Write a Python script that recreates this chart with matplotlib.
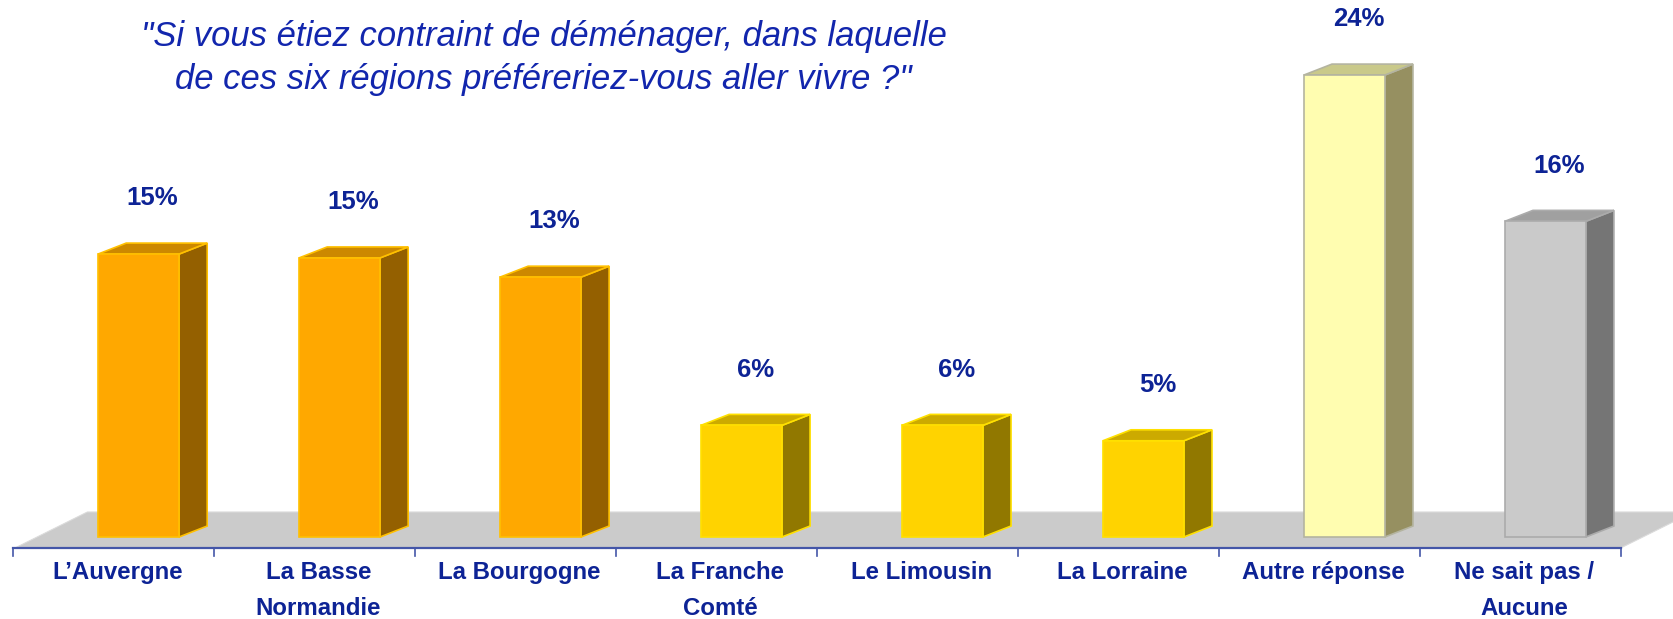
import matplotlib
matplotlib.use("Agg")
import matplotlib.pyplot as plt
from matplotlib.patches import Polygon
import numpy as np

# data
categories = ["L\u2019Auvergne", "La Basse\nNormandie", "La Bourgogne", "La Franche\nComt\u00e9",
              "Le Limousin", "La Lorraine", "Autre r\u00e9ponse", "Ne sait pas /\nAucune"]
values = [14.7, 14.5, 13.5, 5.8, 5.8, 5.0, 24.0, 16.4]
labels = ["15%", "15%", "13%", "6%", "6%", "5%", "24%", "16%"]

# colours: front, top, side, edge
orange = ("#FFA800", "#CC8800", "#946000", "#FFC000")
yellow = ("#FFD300", "#CCAA00", "#917800", "#FFE000")
pale = ("#FFFDB0", "#C9C98A", "#969061", "#B4B4A0")
grey = ("#CACACA", "#A0A0A0", "#757575", "#ABABAB")
bar_colors = [orange, orange, orange, yellow, yellow, yellow, pale, grey]

navy = "#0d2395"
plt.rcParams['font.family'] = ['Liberation Sans', 'DejaVu Sans']

fig = plt.figure(figsize=(16.73, 6.19), dpi=100)
ax = fig.add_axes([0, 0, 1, 1])
ax.set_xlim(-0.565, 7.76)
ax.set_ylim(-4.26, 27.9)
ax.axis("off")

dx, dy = 0.14, 0.57  # depth of the fake 3d
left_off, width = -0.077, 0.403

# floor
floor = Polygon([(-0.49, -0.57), (7.5, -0.57), (7.86, 1.3), (-0.13, 1.3)],
                closed=True, facecolor="#CBCBCB", edgecolor="#DADADA", lw=0.8, zorder=1)
ax.add_patch(floor)

# axis line and ticks
ax.plot([-0.5, 7.5], [-0.57, -0.57], color="#4456a8", lw=1.6, zorder=2)
for i in range(len(categories) + 1):
    ax.plot([i - 0.5, i - 0.5], [-0.57, -1.0], color="#4456a8", lw=1.2, zorder=2)

for i, (v, c) in enumerate(zip(values, bar_colors)):
    l = i + left_off
    r = l + width
    front, top, side, edge = c
    ax.add_patch(Polygon([(r, 0), (r + dx, dy), (r + dx, v + dy), (r, v)],
                         facecolor=side, edgecolor=edge, lw=1.2, zorder=3))
    ax.add_patch(Polygon([(l, v), (r, v), (r + dx, v + dy), (l + dx, v + dy)],
                         facecolor=top, edgecolor=edge, lw=1.2, zorder=3))
    ax.add_patch(Polygon([(l, 0), (r, 0), (r, v), (l, v)],
                         facecolor=front, edgecolor=edge, lw=1.2, zorder=4))
    ax.text(l + width / 2 + dx / 2, v + 2.9, labels[i], ha="center", va="center",
            fontsize=18.5, fontweight="bold", color=navy)
    for k, line in enumerate(categories[i].split("\n")):
        ax.text(i + 0.02, -1.82 - k * 1.87, line, ha="center", va="center",
                fontsize=17.3, fontweight="bold", color=navy)

fig.text(0.325, 0.906, "\"Si vous \u00e9tiez contraint de d\u00e9m\u00e9nager, dans laquelle\n"
         "de ces six r\u00e9gions pr\u00e9f\u00e9reriez-vous aller vivre ?\"",
         ha="center", va="center", fontsize=24.9, style="italic", color="#1226ad",
         linespacing=1.38)

fig.savefig("out.png", dpi=100)
